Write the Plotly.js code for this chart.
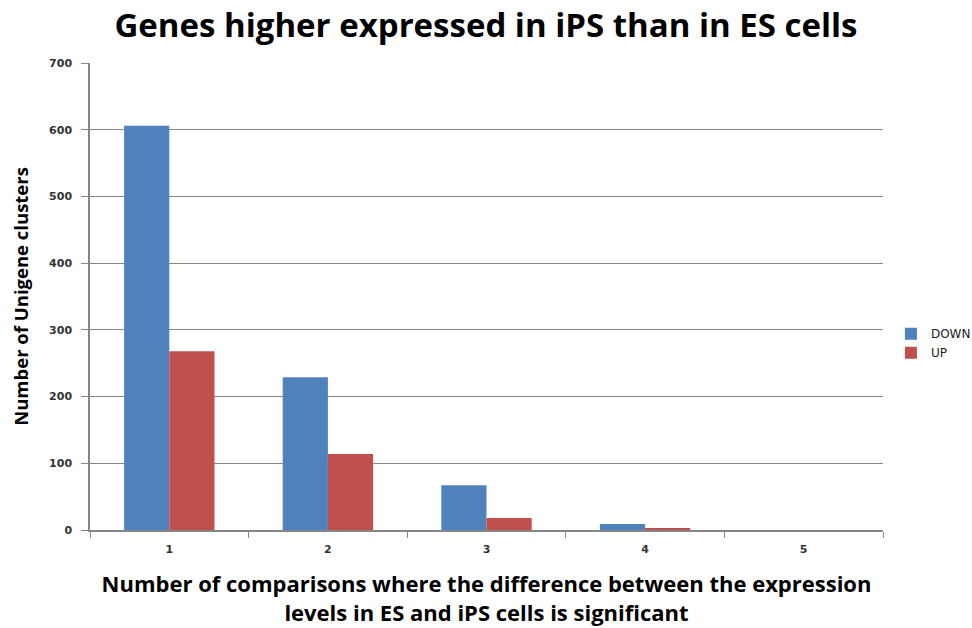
<!DOCTYPE html>
<html>
<head>
<meta charset="utf-8">
<script src="https://cdn.plot.ly/plotly-3.0.1.min.js"></script>
<style>html,body{margin:0;padding:0;background:#fff;}#chart{width:972px;height:628px;}</style>
</head>
<body>
<div id="chart"></div>
<script>
var categories = ["1", "2", "3", "4", "5"];
var downValues = [606, 229, 67, 9, 0];
var upValues = [268, 114, 18, 3, 0];
var yTicks = [0, 100, 200, 300, 400, 500, 600, 700];

var traces = [
  {type: "bar", name: "DOWN", x: categories, y: downValues, marker: {color: "#4F81BD"}},
  {type: "bar", name: "UP", x: categories, y: upValues, marker: {color: "#C0504D"}}
];

var TF = "'Open Sans', sans-serif";
var TICKF = {size: 11, family: "'DejaVu Sans', sans-serif", weight: "bold", color: "#333"};
var layout = {
  width: 972, height: 628,
  margin: {l: 90, r: 89, t: 63, b: 98, autoexpand: false},
  paper_bgcolor: "#ffffff", plot_bgcolor: "#ffffff",
  barmode: "group", bargap: 0.43, bargroupgap: 0,
  font: {family: "'DejaVu Sans', sans-serif", color: "#000"},
  title: {text: "<b>Genes higher expressed in iPS than in ES cells</b>", font: {size: 33, family: TF, color: "#000"}, x: 0.5, xanchor: "center", y: 0.96, yanchor: "middle", yref: "container"},
  xaxis: {
    type: "category", showline: true, linecolor: "#868686", linewidth: 1.5,
    ticks: "outside", tickson: "boundaries", ticklen: 6, tickcolor: "#868686",
    tickfont: TICKF, ticklabelstandoff: 8, showgrid: false,
    title: {text: "<b>Number of comparisons where the difference between the expression<br>levels in ES and iPS cells is significant</b>", font: {size: 22, family: TF, color: "#000"}, standoff: 22}
  },
  yaxis: {
    range: [0, 700], tickvals: yTicks, showline: true, linecolor: "#868686", linewidth: 1.5,
    ticks: "outside", ticklen: 7, tickcolor: "#868686",
    tickfont: TICKF, ticklabelstandoff: 7, showgrid: true, gridcolor: "#868686", gridwidth: 1,
    zeroline: false,
    title: {text: "<b>Number of Unigene clusters</b>", font: {size: 18.5, family: TF, color: "#000"}, standoff: 16}
  },
  legend: {x: 1.01, xanchor: "left", y: 0.40, yanchor: "middle", font: {size: 12, color: "#222"}, tracegroupgap: 4, itemwidth: 30},
  showlegend: true
};

Plotly.newPlot("chart", traces, layout, {displayModeBar: false});
</script>
</body>
</html>
